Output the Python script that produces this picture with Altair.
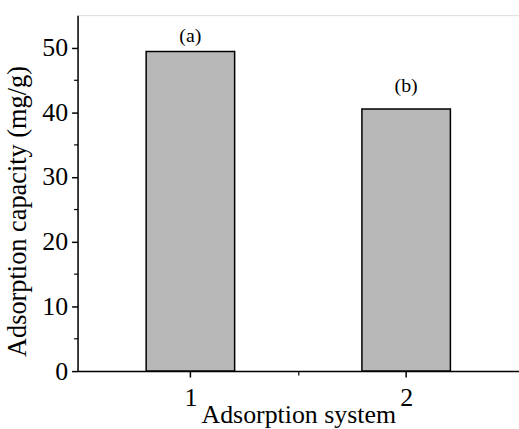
import altair as alt
import pandas as pd

systems = [1, 2]
capacity = [49.4, 40.5]
labels = ["(a)", "(b)"]
label_y = [51.8, 44.0]

y_major = [0, 10, 20, 30, 40, 50]
y_minor = [5, 15, 25, 35, 45]
x_major = [1, 2]
x_minor = [1.5]

df = pd.DataFrame({"system": systems, "capacity": capacity, "label": labels, "label_y": label_y})

FONT = "Liberation Serif"
xscale = alt.Scale(domain=[0.5, 2.5], nice=False, zero=False)
yscale = alt.Scale(domain=[0, 55], nice=False)

bars = alt.Chart(df).mark_bar(size=89, fill="#b8b8b8", stroke="black", strokeWidth=1.5).encode(
    x=alt.X("system:Q", scale=xscale,
            axis=alt.Axis(values=x_major, title="Adsorption system", format="d",
                          labelFont=FONT, labelFontSize=26, labelColor="black", labelPadding=8,
                          titleFont=FONT, titleFontSize=26, titleFontWeight="normal", titleColor="black",
                          titlePadding=-9, tickSize=6, tickColor="black", tickWidth=1.5,
                          domainColor="black", domainWidth=1.5, grid=False)),
    y=alt.Y("capacity:Q", scale=yscale,
            axis=alt.Axis(values=y_major, title="Adsorption capacity (mg/g)",
                          labelFont=FONT, labelFontSize=26, labelColor="black", labelPadding=4,
                          titleFont=FONT, titleFontSize=26.5, titleFontWeight="normal", titleColor="black",
                          titlePadding=10, titleY=197, tickSize=6, tickColor="black", tickWidth=1.5,
                          domainColor="black", domainWidth=1.5, grid=False)),
)

minor = alt.Chart(df).mark_point(opacity=0).encode(
    x=alt.X("system:Q", scale=xscale,
            axis=alt.Axis(values=x_minor, labels=False, title=None, tickSize=4, tickColor="black",
                          tickWidth=1.2, domain=False, grid=False, orient="bottom")),
    y=alt.Y("capacity:Q", scale=yscale,
            axis=alt.Axis(values=y_minor, labels=False, title=None, tickSize=4, tickColor="black",
                          tickWidth=1.2, domain=False, grid=False, orient="left")),
)

text = alt.Chart(df).mark_text(font=FONT, fontSize=20, color="black", baseline="middle").encode(
    x=alt.X("system:Q", scale=xscale, axis=None),
    y=alt.Y("label_y:Q", scale=yscale, axis=None),
    text="label:N",
)

chart = alt.layer(bars, text, minor).resolve_axis(x="independent", y="independent").properties(
    width=444, height=358,
    autosize=alt.AutoSizeParams(type="none"),
    padding={"left": 78, "top": 14, "right": 0, "bottom": 57},
).configure_view(stroke="black", strokeWidth=1.5).configure(background="white")

chart.save("out.html", embed_options={"renderer": "svg", "actions": False})
